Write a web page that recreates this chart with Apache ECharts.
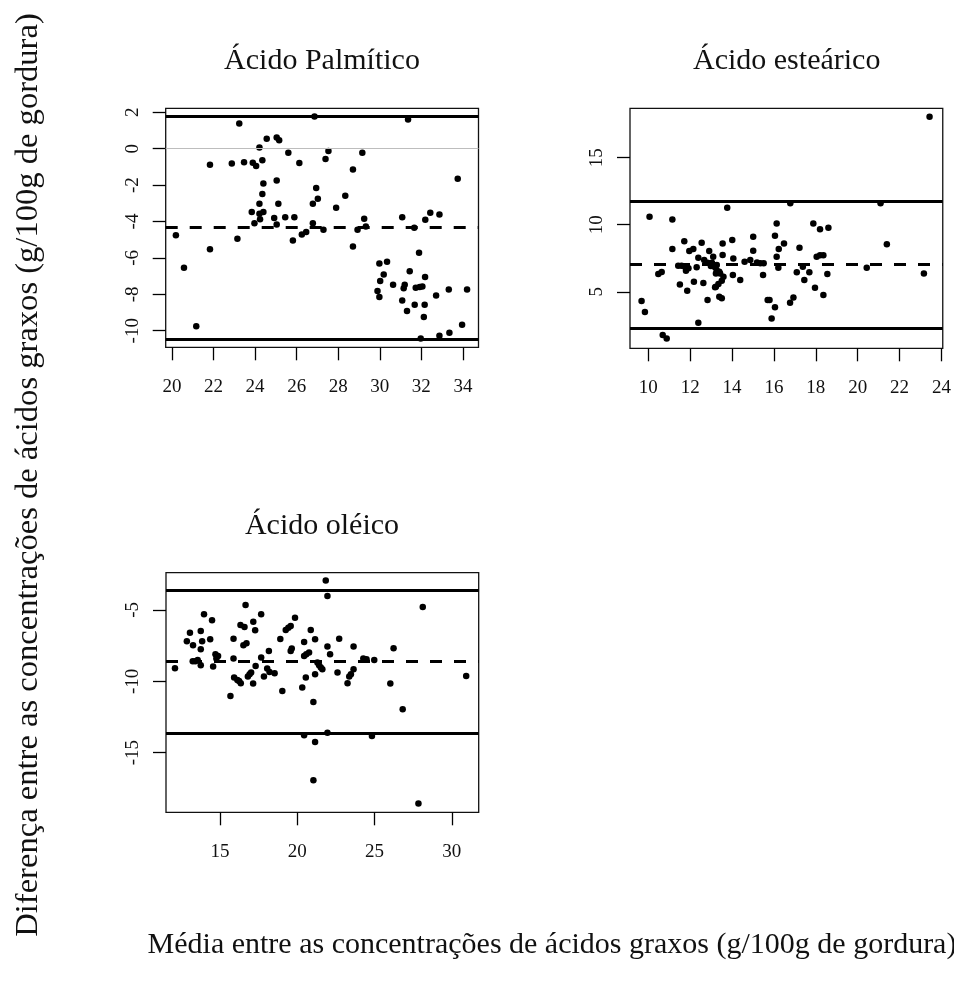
<!DOCTYPE html>
<html>
<head>
<meta charset="utf-8">
<script src="https://cdn.jsdelivr.net/npm/echarts@6/dist/echarts.min.js"></script>
<style>
html,body{margin:0;padding:0;background:#fff;}
#chart{width:954px;height:989px;}
</style>
</head>
<body>
<div id="chart"></div>
<script>
// ---------- DATA ----------
const panelTitles = ['Ácido Palmítico', 'Ácido esteárico', 'Ácido oléico'];
const xAxisTitle = 'Média entre as concentrações de ácidos graxos (g/100g de gordura)';
const yAxisTitle = 'Diferença entre as concentrações de ácidos graxos (g/100g de gordura)';

// Ácido Palmítico: [média, diferença]
const palmiticPoints = [
  [20.19,-4.76],[20.58,-6.54],[21.17,-9.76],[21.83,-0.88],[21.83,-5.53],[22.88,-0.81],[23.15,-4.95],
  [23.24,1.39],[23.47,-0.74],[23.84,-3.48],[23.89,-0.77],[23.97,-4.09],[24.05,-0.95],[24.21,0.07],
  [24.21,-3.02],[24.21,-3.57],[24.24,-3.88],[24.35,-0.64],[24.35,-2.49],[24.4,-1.91],[24.4,-3.48],
  [24.56,0.55],[24.92,-3.81],[25.04,0.62],[25.04,-1.74],[25.04,-4.16],[25.12,-3.02],[25.16,0.46],
  [25.45,-3.76],[25.6,-0.22],[25.82,-5.04],[25.89,-3.76],[26.13,-0.79],[26.25,-4.71],[26.46,-4.58],
  [26.78,-3.02],[26.78,-4.09],[26.86,1.77],[26.94,-2.16],[27.02,-2.75],[27.29,-4.45],[27.39,-0.57],
  [27.53,-0.13],[27.9,-3.24],[28.34,-2.58],[28.71,-1.14],[28.71,-5.37],[28.93,-4.45],[29.16,-0.22],
  [29.25,-3.85],[29.33,-4.27],[29.89,-7.82],[29.98,-6.3],[29.98,-8.15],[30.02,-7.27],[30.19,-6.91],
  [30.35,-6.21],[30.64,-7.47],[31.08,-3.76],[31.08,-8.34],[31.15,-7.66],[31.2,-7.47],[31.31,-8.92],
  [31.36,1.61],[31.44,-6.73],[31.66,-4.34],[31.68,-8.57],[31.73,-7.64],[31.89,-5.71],[31.92,-7.6],
  [31.97,-10.42],[32.05,-7.57],[32.12,-9.25],[32.16,-8.57],[32.18,-7.05],[32.19,-3.9],[32.43,-3.52],
  [32.71,-8.06],[32.87,-3.61],[32.87,-10.27],[33.32,-7.73],[33.35,-10.11],[33.75,-1.65],[33.96,-9.67],
  [34.2,-7.73]
];
// limits: [upper, mean, lower]
const palmiticLimits = [1.80, -4.32, -10.47];
const palmiticZero = [0];
const palmiticXTicks = [20, 22, 24, 26, 28, 30, 32, 34];
const palmiticYTicks = [-10, -8, -6, -4, -2, 0, 2];

// Ácido esteárico
const stearicPoints = [
  [9.68,4.31],[9.84,3.49],[10.06,10.6],[10.48,6.32],[10.64,6.47],[10.69,1.77],[10.88,1.52],[11.15,10.4],
  [11.15,8.19],[11.43,6.94],[11.51,5.55],[11.59,6.94],[11.72,8.76],[11.75,6.87],[11.8,6.57],[11.86,5.07],
  [11.92,6.75],[11.96,8.04],[12.15,8.19],[12.18,5.75],[12.31,6.82],[12.39,7.54],[12.39,2.69],[12.55,8.66],
  [12.63,5.65],[12.67,7.37],[12.83,7.16],[12.83,4.38],[12.91,8.04],[12.99,6.92],[13.04,7.16],[13.1,7.61],
  [13.19,6.83],[13.19,5.33],[13.23,6.37],[13.23,5.37],[13.27,6.99],[13.27,6.58],[13.35,5.57],[13.39,6.49],
  [13.39,4.63],[13.43,6.37],[13.51,5.82],[13.51,4.51],[13.55,8.61],[13.55,7.74],[13.59,6.12],[13.77,11.27],
  [14.01,8.86],[14.04,6.25],[14.06,7.49],[14.39,5.87],[14.6,7.24],[14.87,7.37],[15.01,9.1],[15.01,8.06],
  [15.19,7.19],[15.35,7.12],[15.48,6.25],[15.51,7.12],[15.7,4.38],[15.79,4.38],[15.89,3.01],[16.05,9.18],
  [16.05,3.84],[16.13,10.1],[16.13,7.61],[16.21,6.79],[16.23,8.19],[16.48,8.61],[16.77,4.18],[16.78,11.6],
  [16.93,4.58],[17.09,6.45],[17.22,8.28],[17.38,6.87],[17.45,5.87],[17.69,6.45],[17.88,10.1],[17.96,5.3],
  [18.04,7.61],[18.2,9.66],[18.2,7.72],[18.36,7.72],[18.36,4.75],[18.55,6.32],[18.6,9.78],[20.43,6.79],
  [21.09,11.6],[21.39,8.54],[23.16,6.37],[23.43,18.06]
];
const stearicLimits = [11.79, 7.04, 2.31];
const stearicXTicks = [10, 12, 14, 16, 18, 20, 22, 24];
const stearicYTicks = [5, 10, 15];

// Ácido oléico
const oleicPoints = [
  [12.08,-9.09],[12.85,-7.2],[13.05,-6.59],[13.23,-8.6],[13.25,-7.48],[13.4,-8.6],[13.55,-8.51],[13.75,-6.48],
  [13.75,-7.76],[13.75,-8.88],[13.84,-7.2],[13.96,-5.3],[14.36,-7.06],[14.48,-5.73],[14.55,-8.97],[14.7,-8.11],
  [14.76,-8.41],[14.87,-8.23],[15.67,-11.03],[15.87,-8.41],[15.87,-7.01],[15.91,-9.74],[16.12,-9.91],[16.23,-9.98],
  [16.32,-6.05],[16.34,-10.14],[16.51,-7.48],[16.58,-6.19],[16.65,-4.65],[16.71,-7.34],[16.8,-9.67],[16.91,-9.51],
  [17.01,-9.39],[17.14,-10.16],[17.15,-5.82],[17.27,-6.43],[17.3,-8.93],[17.66,-5.3],[17.66,-8.34],[17.84,-9.67],
  [18.05,-9.11],[18.16,-7.88],[18.2,-9.35],[18.53,-9.44],[18.9,-7.03],[19.03,-10.68],[19.25,-6.41],[19.42,-6.24],
  [19.57,-6.12],[19.57,-7.88],[19.64,-7.71],[19.85,-5.54],[20.32,-10.44],[20.44,-7.25],[20.44,-8.23],[20.55,-9.74],
  [20.58,-8.11],[20.76,-7.99],[20.87,-6.41],[21.04,-11.45],[21.15,-7.06],[21.15,-9.51],[21.3,-8.69],[21.41,-8.88],
  [21.52,-9.04],[21.62,-9.16],[21.84,-2.94],[21.95,-4.02],[21.95,-7.57],[22.12,-8.11],[22.6,-9.39],[22.71,-7.01],
  [23.25,-10.14],[23.36,-9.67],[23.47,-9.51],[23.64,-7.57],[23.64,-9.16],[24.27,-8.41],[24.48,-8.46],[24.98,-8.51],
  [20.44,-13.78],[21.15,-14.25],[21.95,-13.6],[24.83,-13.83],[21.04,-16.94],[26.02,-10.16],[26.23,-7.69],
  [26.82,-11.96],[28.12,-4.79],[27.84,-18.57],[30.93,-9.63]
];
const oleicLimits = [-3.64, -8.57, -13.64];
const oleicXTicks = [15, 20, 25, 30];
const oleicYTicks = [-15, -10, -5];

// ---------- CHART ----------
const FONT = "'Liberation Serif', 'Times New Roman', serif";
const chart = echarts.init(document.getElementById('chart'), null, {renderer: 'canvas'});

const grids = [
  {left: 165.7, top: 108.3, width: 312.8, height: 239},
  {left: 630, top: 108.3, width: 313.3, height: 240},
  {left: 166, top: 572.7, width: 312.7, height: 239.6}
];
const xRanges = [[19.70, 34.75], [9.128, 24.06], [11.5, 31.74]];
const yRanges = [[-10.91, 2.22], [0.78, 18.69], [-19.18, -2.39]];
const xTicks = [palmiticXTicks, stearicXTicks, oleicXTicks];
const yTicks = [palmiticYTicks, stearicYTicks, oleicYTicks];
const points = [palmiticPoints, stearicPoints, oleicPoints];
const limits = [palmiticLimits, stearicLimits, oleicLimits];

function xAxisDef(i) {
  return {
    type: 'value', gridIndex: i, min: xRanges[i][0], max: xRanges[i][1],
    position: 'bottom',
    axisLine: {show: false, onZero: false},
    splitLine: {show: false},
    axisTick: {show: true, inside: false, length: 13, customValues: xTicks[i],
      lineStyle: {color: '#000', width: 1.3}},
    axisLabel: {show: true, customValues: xTicks[i], margin: 30,
      fontFamily: FONT, fontSize: 19, color: '#111'}
  };
}
function yAxisDef(i) {
  return {
    type: 'value', gridIndex: i, min: yRanges[i][0], max: yRanges[i][1],
    position: 'left',
    axisLine: {show: false, onZero: false},
    splitLine: {show: false},
    axisTick: {show: true, inside: false, length: 13, customValues: yTicks[i],
      lineStyle: {color: '#000', width: 1.3}},
    axisLabel: {show: true, customValues: yTicks[i], rotate: 90, margin: 23,
      fontFamily: FONT, fontSize: 19, color: '#111'}
  };
}
function limitLines(i) {
  const L = limits[i];
  const data = [
    {yAxis: L[0], lineStyle: {type: 'solid', width: 3, color: '#000'}},
    {yAxis: L[1], lineStyle: {type: [12, 12], width: 3, color: '#000'}},
    {yAxis: L[2], lineStyle: {type: 'solid', width: 3, color: '#000'}}
  ];
  if (i === 0) {
    data.unshift({yAxis: palmiticZero[0], lineStyle: {type: 'solid', width: 1, color: '#bdbdbd'}});
  }
  return {
    silent: true, symbol: ['none', 'none'], label: {show: false},
    animation: false, data: data
  };
}

const series = [0, 1, 2].map(i => ({
  type: 'scatter', xAxisIndex: i, yAxisIndex: i,
  data: points[i], symbol: 'circle', symbolSize: 6.5,
  itemStyle: {color: '#000', opacity: 1},
  markLine: limitLines(i),
  z: 3
}));

const graphicTexts = [
  {type: 'text', x: 322, y: 61, style: {text: panelTitles[0], font: '30px ' + FONT, fill: '#111', textAlign: 'center', textVerticalAlign: 'middle'}},
  {type: 'text', x: 786.7, y: 61, style: {text: panelTitles[1], font: '30px ' + FONT, fill: '#111', textAlign: 'center', textVerticalAlign: 'middle'}},
  {type: 'text', x: 322, y: 526, style: {text: panelTitles[2], font: '30px ' + FONT, fill: '#111', textAlign: 'center', textVerticalAlign: 'middle'}},
  {type: 'text', x: 552, y: 945, style: {text: xAxisTitle, font: '30px ' + FONT, fill: '#111', textAlign: 'center', textVerticalAlign: 'middle'}},
  {type: 'text', x: 28, y: 475, rotation: Math.PI / 2, style: {text: yAxisTitle, font: '32.6px ' + FONT, fill: '#111', textAlign: 'center', textVerticalAlign: 'middle'}}
];

chart.setOption({
  animation: false,
  backgroundColor: '#fff',
  grid: grids.map(g => Object.assign({show: true, borderColor: '#111', borderWidth: 1.3, backgroundColor: 'transparent', containLabel: false}, g)),
  xAxis: [0, 1, 2].map(xAxisDef),
  yAxis: [0, 1, 2].map(yAxisDef),
  series: series,
  graphic: graphicTexts
});
</script>
</body>
</html>
